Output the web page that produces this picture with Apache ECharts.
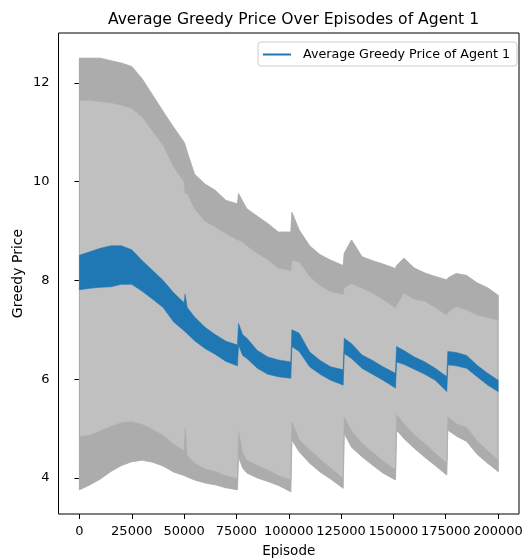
<!DOCTYPE html>
<html><head><meta charset="utf-8">
<script src="https://cdn.jsdelivr.net/npm/echarts@6/dist/echarts.min.js"></script>
<style>html,body{margin:0;padding:0;background:#fff}#c{width:527px;height:558px}</style>
</head><body><div id="c"></div>
<script>
// Episodes (shared x for all envelopes)
const episodes = [0,5000,10000,15000,20000,25000,30000,35000,40000,45000,50000,50500,51500,55000,60000,65000,70000,75500,76000,78000,80000,85000,90000,95000,101000,101500,105000,110000,115000,120000,126000,126500,130000,135000,140000,145000,151000,151500,155000,160000,165000,170000,175500,176000,180000,185000,190000,195000,200000];
// Gray band (mean - std side): bottom and top of the noisy lower edge
const lowerBottom = [3.76,3.86,3.98,4.13,4.25,4.33,4.36,4.32,4.24,4.12,4.05,4.04,4.02,3.96,3.90,3.86,3.80,3.76,4.43,4.20,4.10,4.00,3.93,3.85,3.72,4.77,4.53,4.30,4.12,3.98,3.79,4.90,4.62,4.43,4.26,4.10,3.96,4.97,4.80,4.60,4.42,4.25,4.06,4.97,4.85,4.74,4.48,4.30,4.13];
const lowerTop    = [4.84,4.86,4.95,5.04,5.12,5.14,5.08,4.98,4.86,4.68,4.55,5.01,4.45,4.30,4.18,4.13,4.04,3.99,4.94,4.50,4.36,4.25,4.16,4.05,3.96,5.14,4.77,4.57,4.38,4.20,3.99,5.24,4.95,4.70,4.52,4.35,4.16,5.28,5.10,4.87,4.70,4.50,4.30,5.24,5.10,5.02,4.75,4.55,4.36];
// Gray band (mean + std side): bottom and top of the noisy upper edge
const upperBottom = [11.65,11.65,11.62,11.60,11.55,11.48,11.31,11.02,10.74,10.30,10.00,9.76,9.76,9.45,9.20,9.08,8.95,8.82,8.82,8.78,8.70,8.55,8.42,8.25,8.20,8.41,8.38,8.08,7.90,7.77,7.72,7.85,7.94,7.84,7.75,7.62,7.44,7.50,7.74,7.62,7.58,7.45,7.30,7.35,7.47,7.40,7.30,7.25,7.20];
const upperTop    = [12.50,12.50,12.50,12.45,12.40,12.33,12.08,11.75,11.42,11.10,10.80,10.74,10.60,10.15,9.95,9.82,9.62,9.55,9.76,9.60,9.45,9.30,9.15,8.98,8.98,9.38,9.02,8.70,8.52,8.41,8.30,8.55,8.82,8.48,8.40,8.33,8.24,8.30,8.45,8.25,8.15,8.08,8.01,8.05,8.14,8.10,7.95,7.85,7.70];
// Average greedy price (noisy line): bottom and top of its spread
const meanBottom  = [7.81,7.84,7.86,7.87,7.92,7.92,7.78,7.62,7.45,7.16,6.98,6.96,6.92,6.78,6.62,6.50,6.36,6.27,6.69,6.48,6.42,6.22,6.10,6.05,6.02,6.66,6.56,6.25,6.10,5.98,5.88,6.52,6.42,6.22,6.10,5.98,5.82,6.35,6.30,6.20,6.10,5.98,5.75,6.29,6.27,6.22,6.05,5.88,5.75];
const meanTop     = [8.51,8.58,8.65,8.70,8.70,8.62,8.40,8.20,8.00,7.75,7.55,7.72,7.45,7.26,7.05,6.90,6.77,6.69,7.13,6.90,6.83,6.58,6.45,6.39,6.35,7.00,6.93,6.55,6.38,6.25,6.19,6.83,6.72,6.49,6.38,6.25,6.12,6.66,6.58,6.45,6.35,6.22,6.05,6.56,6.54,6.48,6.28,6.12,5.98];
const xTicks = [0,25000,50000,75000,100000,125000,150000,175000,200000];
const yTicks = [4,6,8,10,12];
const seriesName = 'Average Greedy Price of Agent 1';

const FONT = 'DejaVu Sans';
const DARK = '#acacac', LIGHT = '#c0c0c0', BLUE = '#1f77b4';

// band drawn as one polygon through the chart's own coordinate system
function band(name, lo, hi, color, z) {
  return {
    type:'custom', name:name, silent:true, animation:false, z:z, clip:true,
    encode:{x:0, y:[1,2]},
    itemStyle:{color:color},
    data: episodes.map((x,i)=>[x, lo[i], hi[i]]),
    renderItem: function(params, api) {
      if (params.dataIndex !== 0) return null;
      const top = episodes.map((x,i)=>api.coord([x, hi[i]]));
      const bot = episodes.map((x,i)=>api.coord([x, lo[i]])).reverse();
      return {type:'polygon', shape:{points: top.concat(bot)},
        style:{fill:color, stroke:color, lineWidth:0.6}};
    }
  };
}
function edge(x, lo, hi) {
  return {type:'custom', silent:true, animation:false, z:1, data:[[x, lo, hi]], encode:{x:0, y:[1,2]},
    renderItem: function(params, api) {
      const a = api.coord([x, lo]), b = api.coord([x, hi]);
      return {type:'line', shape:{x1:a[0], y1:a[1], x2:b[0], y2:b[1]}, style:{stroke:'#a8a8a8', lineWidth:1}};
    }};
}
const N = episodes.length - 1;

const chart = echarts.init(document.getElementById('c'), null, {renderer:'canvas'});
chart.setOption({
  animation:false,
  title:{text:'Average Greedy Price Over Episodes of Agent 1', left:288.5, top:7, textAlign:'center',
    textStyle:{fontFamily:FONT, fontSize:15.6, fontWeight:'normal', color:'#000'}},
  legend:{data:[{name:seriesName, icon:'rect', itemStyle:{color:BLUE}}], right:10, top:42,
    itemWidth:28, itemHeight:2, padding:[6,7,5,5], borderColor:'#cccccc', borderWidth:1, borderRadius:3,
    textStyle:{fontFamily:FONT, fontSize:12.7, color:'#000', padding:[0,0,0,7]}},
  grid:{left:58.5, right:8, top:33, bottom:44, show:true, borderColor:'#000', borderWidth:1,
    backgroundColor:'transparent', containLabel:false, outerBoundsMode:'none'},
  xAxis:{type:'value', min:-10000, max:210000, name:'Episode', nameLocation:'middle', nameGap:30,
    nameTextStyle:{fontFamily:FONT, fontSize:13.5, color:'#000'},
    axisLine:{show:false}, splitLine:{show:false},
    axisTick:{show:true, length:5, customValues:xTicks, lineStyle:{color:'#000'}},
    axisLabel:{customValues:xTicks, formatter:v=>String(v), fontFamily:FONT, fontSize:13, color:'#000', margin:11}},
  yAxis:{type:'value', min:3.27, max:13.01, name:'Greedy Price', nameLocation:'middle', nameGap:33, nameMoveOverlap:false,
    nameTextStyle:{fontFamily:FONT, fontSize:14, color:'#000'},
    axisLine:{show:false}, splitLine:{show:false},
    axisTick:{show:true, length:5, customValues:yTicks, lineStyle:{color:'#000'}},
    axisLabel:{customValues:yTicks, formatter:v=>String(v), fontFamily:FONT, fontSize:13, color:'#000', margin:9}},
  series:[
    band('gMid', lowerBottom, upperTop, LIGHT, 1),
    band('gLow', lowerBottom, lowerTop, DARK, 2),
    band('gUp', upperBottom, upperTop, DARK, 2),
    edge(episodes[0], lowerBottom[0], upperTop[0]),
    edge(episodes[N], lowerBottom[N], upperTop[N]),
    band(seriesName, meanBottom, meanTop, BLUE, 3)
  ]
});
</script></body></html>
